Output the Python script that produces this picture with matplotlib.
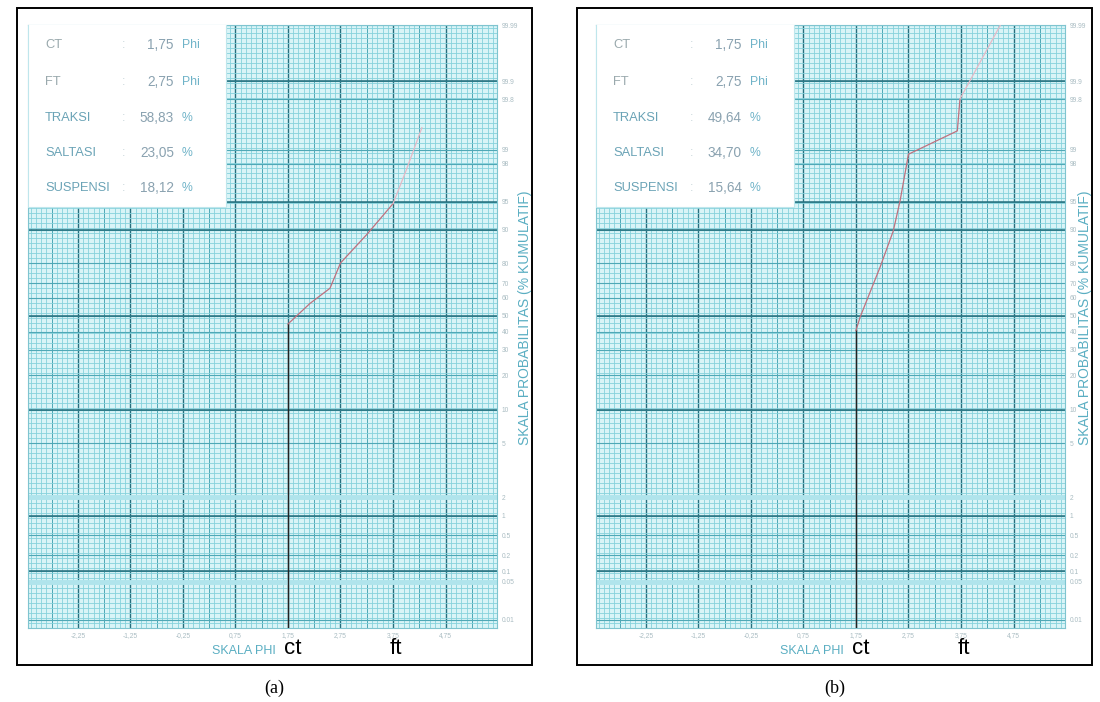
import numpy as np
import matplotlib.pyplot as plt
from matplotlib.patches import Rectangle

plt.rcParams['font.family'] = ['Liberation Sans', 'DejaVu Sans']

# --- data ---
phi_ticks = [-2.25, -1.25, -0.25, 0.75, 1.75, 2.75, 3.75, 4.75]
phi_tick_labels = ['-2,25', '-1,25', '-0,25', '0,75', '1,75', '2,75', '3,75', '4,75']
prob_ticks = [0.01, 0.05, 0.1, 0.2, 0.5, 1, 2, 5, 10, 20, 30, 40, 50, 60, 70, 80, 90,
              95, 98, 99, 99.8, 99.9, 99.99]
prob_tick_labels = ['0.01', '0.05', '0.1', '0.2', '0.5', '1', '2', '5', '10', '20', '30', '40',
                    '50', '60', '70', '80', '90', '95', '98', '99', '99.8', '99.9', '99.99']

# kurva (a)
phi_a = [1.75, 1.75, 2.17, 2.55, 2.75, 3.26, 3.75]
pct_a = [0.001, 45, 57, 66.5, 80, 88.8, 94.7]
phi_a_faint = [3.75, 4.0, 4.3]
pct_a_faint = [94.7, 97.5, 99.35]

# kurva (b)
phi_b = [1.75, 1.75, 1.83, 2.21, 2.46, 2.59, 2.75, 3.68, 3.73]
pct_b = [0.001, 41, 49.4, 78, 89.7, 95.1, 98.7, 99.3, 99.8]
phi_b_faint = [3.73, 4.5]
pct_b_faint = [99.8, 99.99]

info_labels = ['CT', 'FT', 'TRAKSI', 'SALTASI', 'SUSPENSI']
info_units = ['Phi', 'Phi', '%', '%', '%']
info_a = ['1,75', '2,75', '58,83', '23,05', '18,12']
info_b = ['1,75', '2,75', '49,64', '34,70', '15,64']

# kertas probabilitas: posisi baris (piksel dari atas) untuk tiap persen
PAPER_PCT = [0.001] + prob_ticks
PAPER_ROW = [628, 620, 582, 571, 555, 535, 516, 497, 443, 410, 375, 350, 332, 316, 298,
             283, 263, 230, 202, 164, 150, 99, 81, 25]
BOTTOM = 628

W, H = 1100, 702
fig = plt.figure(figsize=(W / 100, H / 100), dpi=100)
fig.patch.set_facecolor('white')

hgt = np.array([BOTTOM - r for r in PAPER_ROW], dtype=float)
pcts = np.array(PAPER_PCT, dtype=float)


def fwd(p):
    return np.interp(p, pcts, hgt)


def inv(h):
    return np.interp(h, hgt, pcts)


BG = '#d9f4f7'
MINOR = '#86d2dc'
MID = '#4fa8b6'
DARK = '#256f7d'
TEAL = '#5aaec2'


def panel(fx, frame_x0, frame_x1, phi, pct, phi_f, pct_f, info, tag):
    x0, x1, y0, y1 = fx, fx + 469, 25, BOTTOM
    ax = fig.add_axes([x0 / W, 1 - y1 / H, (x1 - x0) / W, (y1 - y0) / H])
    ax.set_yscale('function', functions=(fwd, inv))
    ax.set_xlim(-3.2, 5.73)
    ax.set_ylim(0.001, 99.99)
    ax.set_facecolor(BG)

    # garis kisi vertikal
    for v in np.arange(-3.15, 5.7, 0.1):
        ax.axvline(v, color=MINOR, lw=0.6, zorder=1)
    for v in np.arange(-2.75, 5.5, 0.5):
        ax.axvline(v, color=MID, lw=0.7, zorder=1)
    for v in phi_ticks:
        ax.axvline(v, color=DARK, lw=1.0, zorder=1)

    # garis kisi horizontal (dalam koordinat sumbu)
    for f in np.arange(0, 1, 5 / 603):
        ax.plot([0, 1], [f, f], transform=ax.transAxes, color=MINOR, lw=0.6, zorder=1)
    for p in prob_ticks:
        ax.axhline(p, color=MID, lw=0.8, zorder=1)
    for p in [0.05, 2]:
        ax.axhline(p, color='#b0e4ec', lw=3.5, zorder=1)
    for p in [0.1, 1, 10, 50, 90, 95, 99.9]:
        ax.axhline(p, color=DARK, lw=1.1, zorder=1)

    # kurva
    ax.plot(phi[:2], pct[:2], color='#222222', lw=1.0, zorder=4)
    ax.plot(phi[1:], pct[1:], color='#c0707e', lw=0.9, zorder=4)
    ax.plot(phi_f, pct_f, color='#e6b9c6', lw=0.9, zorder=4)

    # kotak info
    ax.add_patch(Rectangle((0, (BOTTOM - 207) / 603), 198 / 469, 1, transform=ax.transAxes,
                           facecolor='white', edgecolor='#bfe6ec', lw=0.8, zorder=5))
    rows = [45, 82, 118, 153, 188]
    for lab, val, unit, r in zip(info_labels, info, info_units, rows):
        c = '#9aa9ad' if lab in ('CT', 'FT') else '#6aa3b6'
        fig.text((fx + 17) / W, 1 - r / H, lab, color=c, fontsize=9.3, va='center', zorder=6)
        fig.text((fx + 94) / W, 1 - r / H, ':', color='#c8d6da', fontsize=9.3, va='center')
        fig.text((fx + 146) / W, 1 - r / H, val, color='#8aa2b0', fontsize=9.8, va='center',
                 ha='right')
        fig.text((fx + 154) / W, 1 - r / H, unit, color='#6fb3c8', fontsize=8.8, va='center')

    ax.yaxis.tick_right()
    ax.set_yticks(prob_ticks, prob_tick_labels)
    ax.set_xticks(phi_ticks, phi_tick_labels)
    ax.tick_params(axis='both', length=0, labelsize=4.8, colors='#a9bcc2')
    ax.tick_params(axis='y', pad=3.5)
    ax.tick_params(axis='x', pad=3)
    ax.yaxis.set_minor_locator(plt.NullLocator())
    for s in ax.spines.values():
        s.set_color('#7fc4cf')
        s.set_linewidth(0.8)

    fig.text((fx + 216) / W, 1 - 651 / H, 'SKALA PHI', color=TEAL, fontsize=9,
             ha='center', va='center')
    fig.text((frame_x1 - 7) / W, 1 - 318 / H, 'SKALA PROBABILITAS (% KUMULATIF)', color=TEAL,
             fontsize=10, rotation=90, ha='center', va='center')
    xs = ax.transData.transform([(1.75, 1), (3.75, 1)])[:, 0] / W
    fig.text(xs[0] + 0.004, 1 - 648 / H, 'ct', fontsize=16, ha='center', va='center')
    fig.text(xs[1] + 0.003, 1 - 648 / H, 'ft', fontsize=16, ha='center', va='center')

    fig.add_artist(Rectangle((frame_x0 / W, 1 - 665 / H), (frame_x1 - frame_x0) / W,
                             657 / H, transform=fig.transFigure, fill=False,
                             edgecolor='black', lw=1.4))
    fig.text((frame_x0 + frame_x1) / 2 / W, 1 - 688 / H, tag, fontsize=13,
             family='Liberation Serif', ha='center', va='center')


panel(28, 17, 532, phi_a, pct_a, phi_a_faint, pct_a_faint, info_a, '(a)')
panel(596, 577, 1092, phi_b, pct_b, phi_b_faint, pct_b_faint, info_b, '(b)')

fig.savefig('out.png', dpi=100)
